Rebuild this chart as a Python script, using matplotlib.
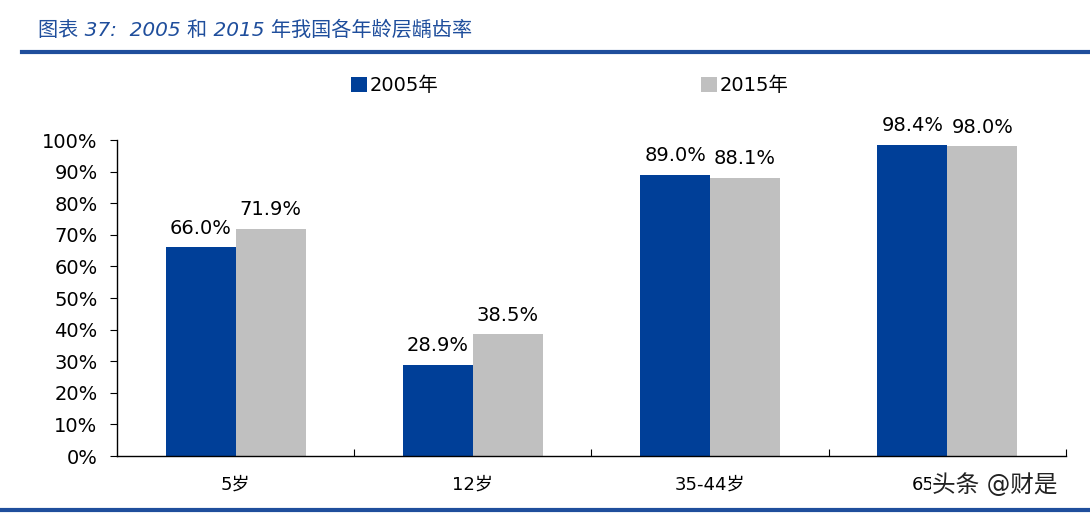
import numpy as np
import matplotlib.pyplot as plt
from matplotlib.lines import Line2D

plt.rcParams['font.family'] = ['DejaVu Sans', 'Noto Sans CJK SC']

# data
categories = ['5岁', '12岁', '35-44岁', '65-74岁']
series_names = ['2005年', '2015年']
rate_2005 = [0.660, 0.289, 0.890, 0.984]
rate_2015 = [0.719, 0.385, 0.881, 0.980]
yticks = np.arange(0, 1.01, 0.1)
title = '图表 37:  2005 和 2015 年我国各年龄层龋齿率'
watermark = '头条 @财是'

blue = '#003F98'
gray = '#C0C0C0'
line_blue = '#1F4E9C'

fig = plt.figure(figsize=(10.9, 5.14), dpi=100)
ax = fig.add_axes([0.1073, 0.1128, 0.8707, 0.6148])

x = np.arange(len(categories))
w = 0.295
b1 = ax.bar(x - w / 2, rate_2005, w, color=blue, label=series_names[0])
b2 = ax.bar(x + w / 2, rate_2015, w, color=gray, label=series_names[1])

for bars, vals in [(b1, rate_2005), (b2, rate_2015)]:
    for r, v in zip(bars, vals):
        ax.annotate('%.1f%%' % (v * 100), (r.get_x() + r.get_width() / 2, v),
                    xytext=(0, 7), textcoords='offset points',
                    ha='center', va='bottom', fontsize=14)

ax.set_xlim(-0.5, len(categories) - 0.5)
ax.set_ylim(0, 1)
ax.set_yticks(yticks)
ax.set_yticklabels(['%d%%' % round(t * 100) for t in yticks], fontsize=14)
ax.tick_params(axis='y', direction='out', length=5, width=0.8, pad=9)

ax.set_xticks(x)
ax.set_xticklabels(categories, fontsize=13)
ax.tick_params(axis='x', which='major', length=0, pad=14)
ax.set_xticks(np.arange(0.5, len(categories), 1), minor=True)
ax.tick_params(axis='x', which='minor', direction='in', length=5, width=0.8)

for s in ['top', 'right']:
    ax.spines[s].set_visible(False)
for s in ['left', 'bottom']:
    ax.spines[s].set_linewidth(1.0)

leg = fig.legend(handles=[b1, b2], loc='center', bbox_to_anchor=(0.523, 0.834),
                 ncol=2, frameon=False, fontsize=14, handlelength=0.8,
                 handleheight=0.8, handletextpad=0.15, columnspacing=13.5)

# title and rules
fig.text(0.035, 0.942, title, fontsize=14.5, style='italic', color=line_blue,
         va='center', ha='left')
fig.add_artist(Line2D([0.02, 1.0], [0.898, 0.898], color=line_blue, lw=3))
fig.add_artist(Line2D([0.0, 1.0], [0.008, 0.008], color=line_blue, lw=3))

# watermark laid over the last category label, as in the source image
fig.text(0.855, 0.057, watermark, fontsize=17, color='#222222', va='center',
         ha='left', bbox=dict(facecolor='white', edgecolor='none', pad=1))

fig.savefig('out.png', dpi=100)
